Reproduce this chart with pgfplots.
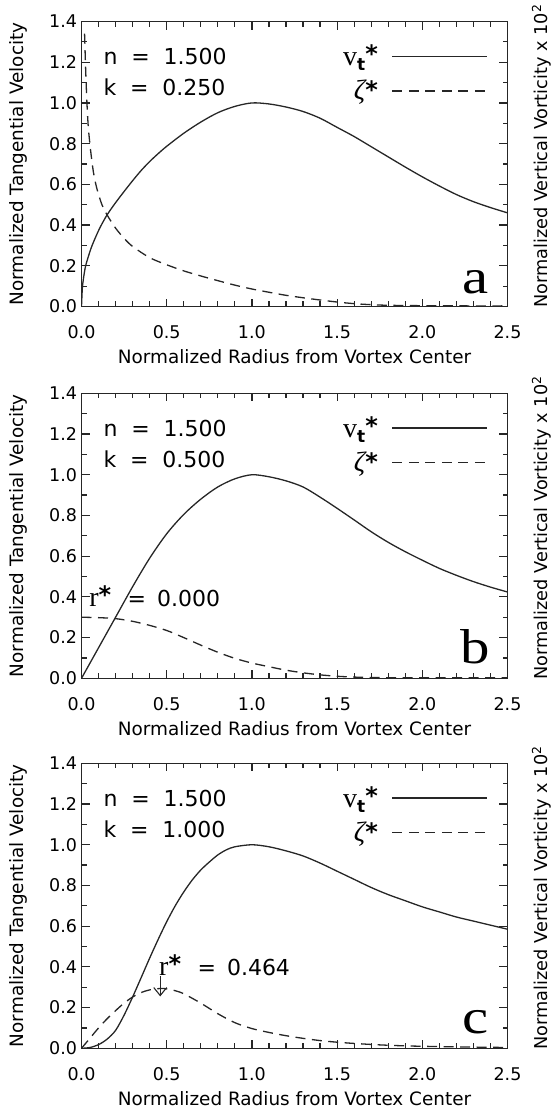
\documentclass[border=0pt]{standalone}
\usepackage[no-math]{fontspec}
\setmainfont{DejaVu Sans}
\newfontfamily\serif{Liberation Serif}
\usepackage{pgfplots}
\pgfplotsset{compat=1.18}
\usetikzlibrary{arrows.meta}

\newcommand{\myast}[1][3pt]{\raisebox{#1}{\fontsize{24}{24}\selectfont\bfseries *}}
\newcommand{\vt}{{\serif v}\raisebox{-5pt}{\fontsize{17}{17}\selectfont\bfseries t}\myast}
\newcommand{\zt}{{\serif\itshape ζ}\myast[1pt]}
\newcommand{\rst}{{\fontsize{28}{28}\selectfont\serif r}\myast}

\tikzset{
  txt/.style={anchor=base west, inner sep=0pt, font=\fontsize{22}{22}\selectfont},
  lett/.style={anchor=base east, inner sep=0pt, font=\fontsize{49}{49}\selectfont\serif, xscale=1.2},
}
\pgfplotsset{
  panel/.style={
    width=426pt, height=285pt, scale only axis,
    xmin=0, xmax=2.5, ymin=0, ymax=1.4,
    xtick={0,0.5,1,1.5,2,2.5}, ytick={0,0.2,0.4,0.6,0.8,1.0,1.2,1.4},
    minor x tick num=4, minor y tick num=1,
    tick align=inside,
    major tick length=8pt, minor tick length=5pt,
    tick style={line width=1.2pt, color=black!85},
    axis line style={line width=1.6pt, black!85},
    /pgf/number format/fixed, /pgf/number format/fixed zerofill,
    /pgf/number format/precision=1, /pgf/number format/assume math mode=true,
    xticklabel style={anchor=base, yshift=-32pt, font=\fontsize{17.5}{18}\selectfont},
    yticklabel style={anchor=east, inner xsep=0pt, xshift=-4.3pt, font=\fontsize{17.5}{18}\selectfont},
    xlabel={Normalized Radius from Vortex Center},
    ylabel={Normalized Tangential Velocity},
    xlabel style={at={(axis description cs:0.5,0)}, anchor=base, yshift=-57pt, font=\fontsize{18.4}{20}\selectfont},
    ylabel style={at={(axis description cs:-0.148,0.5)}, anchor=center, font=\fontsize{18.4}{20}\selectfont},
    legend style={draw=none, fill=none, at={(0.955,0.925)}, anchor=north east,
      inner sep=0pt, row sep=9pt, column sep=12pt, font=\fontsize{28}{28}\selectfont},
    legend cell align=right,
    legend plot pos=right,
    legend image code/.code={\draw[##1] (0pt,0pt) -- (95pt,0pt);},
  },
  vel/.style={line width=1.3pt, black!85, smooth, tension=0.5},
  vor/.style={line width=1.3pt, black!85, dash pattern=on 10pt off 6.5pt, smooth, tension=0.5},
  tk/.style={forget plot, draw=none, error bars/error mark=none,
    error bars/error bar style={draw=black!85, line width=1.2pt, solid}},
}

% tick marks on the four sides of the box (minor 5px, major 8px long)
\newcommand{\boxticks}{%
\addplot[tk, error bars/y dir=plus, error bars/y explicit] coordinates {
(0.1,0) +- (0,0.0246) (0.2,0) +- (0,0.0246) (0.3,0) +- (0,0.0246) (0.4,0) +- (0,0.0246)
(0.5,0) +- (0,0.0393) (0.6,0) +- (0,0.0246) (0.7,0) +- (0,0.0246) (0.8,0) +- (0,0.0246)
(0.9,0) +- (0,0.0246) (1.0,0) +- (0,0.0393) (1.1,0) +- (0,0.0246) (1.2,0) +- (0,0.0246)
(1.3,0) +- (0,0.0246) (1.4,0) +- (0,0.0246) (1.5,0) +- (0,0.0393) (1.6,0) +- (0,0.0246)
(1.7,0) +- (0,0.0246) (1.8,0) +- (0,0.0246) (1.9,0) +- (0,0.0246) (2.0,0) +- (0,0.0393)
(2.1,0) +- (0,0.0246) (2.2,0) +- (0,0.0246) (2.3,0) +- (0,0.0246) (2.4,0) +- (0,0.0246)};
\addplot[tk, error bars/y dir=minus, error bars/y explicit] coordinates {
(0.1,1.4) +- (0,0.0246) (0.2,1.4) +- (0,0.0246) (0.3,1.4) +- (0,0.0246) (0.4,1.4) +- (0,0.0246)
(0.5,1.4) +- (0,0.0393) (0.6,1.4) +- (0,0.0246) (0.7,1.4) +- (0,0.0246) (0.8,1.4) +- (0,0.0246)
(0.9,1.4) +- (0,0.0246) (1.0,1.4) +- (0,0.0393) (1.1,1.4) +- (0,0.0246) (1.2,1.4) +- (0,0.0246)
(1.3,1.4) +- (0,0.0246) (1.4,1.4) +- (0,0.0246) (1.5,1.4) +- (0,0.0393) (1.6,1.4) +- (0,0.0246)
(1.7,1.4) +- (0,0.0246) (1.8,1.4) +- (0,0.0246) (1.9,1.4) +- (0,0.0246) (2.0,1.4) +- (0,0.0393)
(2.1,1.4) +- (0,0.0246) (2.2,1.4) +- (0,0.0246) (2.3,1.4) +- (0,0.0246) (2.4,1.4) +- (0,0.0246)};
\addplot[tk, error bars/x dir=plus, error bars/x explicit] coordinates {
(0,0.1) +- (0.0293,0) (0,0.2) +- (0.047,0) (0,0.3) +- (0.0293,0) (0,0.4) +- (0.047,0)
(0,0.5) +- (0.0293,0) (0,0.6) +- (0.047,0) (0,0.7) +- (0.0293,0) (0,0.8) +- (0.047,0)
(0,0.9) +- (0.0293,0) (0,1.0) +- (0.047,0) (0,1.1) +- (0.0293,0) (0,1.2) +- (0.047,0)
(0,1.3) +- (0.0293,0)};
\addplot[tk, error bars/x dir=minus, error bars/x explicit] coordinates {
(2.5,0.1) +- (0.0293,0) (2.5,0.2) +- (0.047,0) (2.5,0.3) +- (0.0293,0) (2.5,0.4) +- (0.047,0)
(2.5,0.5) +- (0.0293,0) (2.5,0.6) +- (0.047,0) (2.5,0.7) +- (0.0293,0) (2.5,0.8) +- (0.047,0)
(2.5,0.9) +- (0.0293,0) (2.5,1.0) +- (0.047,0) (2.5,1.1) +- (0.0293,0) (2.5,1.2) +- (0.047,0)
(2.5,1.3) +- (0.0293,0)};
}

\newcommand{\sideLabel}[1]{\node[rotate=90, anchor=west, inner sep=0pt, font=\fontsize{17.7}{20}\selectfont]
  at ([xshift=34pt,yshift=-1.5pt]#1.south east) {Normalized Vertical Vorticity x 10\textsuperscript{2}};}

\begin{document}
\begin{tikzpicture}
\path[use as bounding box] (0,0) rectangle (552pt,-1111pt);

% ---------------- panel a ----------------
\begin{axis}[panel, name=A, at={(81.5pt,-306.5pt)}, anchor=south west]
\addplot[vel] coordinates {
(0,0) (0.005,0.09) (0.012,0.14) (0.023,0.195) (0.04,0.245) (0.06,0.295)
(0.085,0.345) (0.11,0.39) (0.15,0.45) (0.2,0.51) (0.25,0.565) (0.3,0.618)
(0.35,0.668) (0.4,0.712) (0.45,0.751) (0.5,0.787) (0.6,0.851) (0.7,0.906)
(0.8,0.952) (0.9,0.983) (1.0,1.0) (1.1,0.995) (1.2,0.98) (1.3,0.958)
(1.4,0.925) (1.5,0.88) (1.6,0.835) (1.7,0.785) (1.8,0.735) (1.9,0.685)
(2.0,0.637) (2.1,0.592) (2.2,0.55) (2.3,0.515) (2.4,0.486) (2.5,0.46)};
\addlegendentry{\vt}
\addplot[vor] coordinates {
(0.018,1.34) (0.025,1.15) (0.032,1.0) (0.04,0.88) (0.053,0.77) (0.07,0.66)
(0.09,0.58) (0.12,0.50) (0.15,0.45) (0.2,0.385) (0.25,0.335) (0.3,0.295)
(0.4,0.24) (0.5,0.205) (0.6,0.175) (0.7,0.15) (0.8,0.127) (0.9,0.105)
(1.0,0.086) (1.1,0.07) (1.2,0.055) (1.3,0.043) (1.4,0.032) (1.5,0.022)
(1.6,0.014) (1.7,0.009) (1.8,0.006) (2.0,0.004) (2.25,0.003) (2.5,0.003)};
\addlegendentry{\zt}
\boxticks
\node[txt] at (axis cs:0.128,1.19) {n\hspace{0.63em}=\hspace{0.63em}1.500};
\node[txt] at (axis cs:0.128,1.035) {k\hspace{0.63em}=\hspace{0.63em}0.250};
\node[lett] at (axis cs:2.39,0.066) {a};
\end{axis}
\sideLabel{A}

% ---------------- panel b ----------------
\begin{axis}[panel, name=B, at={(81.5pt,-678.3pt)}, anchor=south west]
\addplot[vel] coordinates {
(0,0) (0.1,0.15) (0.2,0.30) (0.3,0.45) (0.4,0.59) (0.5,0.71)
(0.6,0.805) (0.7,0.88) (0.8,0.94) (0.9,0.98) (1.0,1.0) (1.1,0.99)
(1.2,0.97) (1.3,0.94) (1.4,0.89) (1.5,0.835) (1.6,0.778) (1.7,0.72)
(1.8,0.668) (1.9,0.622) (2.0,0.58) (2.1,0.54) (2.2,0.506) (2.3,0.475)
(2.4,0.448) (2.5,0.424)};
\addlegendentry{\vt}
\addplot[vor] coordinates {
(0,0.30) (0.1,0.298) (0.2,0.293) (0.3,0.28) (0.4,0.26) (0.5,0.235)
(0.6,0.20) (0.7,0.163) (0.8,0.128) (0.9,0.098) (1.0,0.075) (1.1,0.057)
(1.2,0.04) (1.3,0.027) (1.4,0.017) (1.5,0.010) (1.6,0.006) (1.7,0.004)
(1.8,0.003) (2.1,0.003) (2.5,0.003)};
\addlegendentry{\zt}
\boxticks
\node[txt] at (axis cs:0.128,1.19) {n\hspace{0.63em}=\hspace{0.63em}1.500};
\node[txt] at (axis cs:0.128,1.035) {k\hspace{0.63em}=\hspace{0.63em}0.500};
\node[txt] at (axis cs:0.045,0.354) {\rst\hspace{0.75em}=\hspace{0.5em}0.000};
\node[lett] at (axis cs:2.40,0.075) {b};
\end{axis}
\sideLabel{B}

% ---------------- panel c ----------------
\begin{axis}[panel, name=C, at={(81.5pt,-1048.3pt)}, anchor=south west]
\addplot[vel] coordinates {
(0,0) (0.05,0.004) (0.1,0.018) (0.15,0.045) (0.2,0.088) (0.25,0.163)
(0.3,0.252) (0.35,0.347) (0.4,0.443) (0.45,0.535) (0.5,0.622) (0.55,0.70)
(0.6,0.768) (0.65,0.827) (0.7,0.876) (0.75,0.915) (0.8,0.95) (0.85,0.975)
(0.9,0.99) (1.0,1.0) (1.1,0.99) (1.2,0.97) (1.3,0.945) (1.4,0.91)
(1.5,0.87) (1.6,0.83) (1.7,0.79) (1.8,0.755) (1.9,0.725) (2.0,0.695)
(2.1,0.67) (2.2,0.645) (2.3,0.625) (2.4,0.605) (2.5,0.585)};
\addlegendentry{\vt}
\addplot[vor] coordinates {
(0,0) (0.05,0.05) (0.1,0.10) (0.15,0.145) (0.2,0.185) (0.25,0.222)
(0.3,0.252) (0.35,0.274) (0.4,0.287) (0.464,0.294) (0.5,0.292) (0.55,0.283)
(0.6,0.268) (0.7,0.222) (0.8,0.17) (0.9,0.126) (1.0,0.097) (1.1,0.078)
(1.2,0.062) (1.3,0.049) (1.4,0.038) (1.5,0.03) (1.6,0.024) (1.7,0.019)
(1.8,0.015) (1.9,0.012) (2.0,0.01) (2.2,0.007) (2.5,0.004)};
\addlegendentry{\zt}
\boxticks
\node[txt] at (axis cs:0.128,1.19) {n\hspace{0.63em}=\hspace{0.63em}1.500};
\node[txt] at (axis cs:0.128,1.035) {k\hspace{0.63em}=\hspace{0.63em}1.000};
\node[txt] at (axis cs:0.455,0.36) {\rst\hspace{0.75em}=\hspace{0.5em}0.464};
\draw[line width=1.1pt, black!85, -{Straight Barb[length=8pt,width=13pt]}] (axis cs:0.462,0.355) -- (axis cs:0.462,0.255);
\node[lett] at (axis cs:2.39,0.075) {c};
\end{axis}
\sideLabel{C}
\end{tikzpicture}
\end{document}
